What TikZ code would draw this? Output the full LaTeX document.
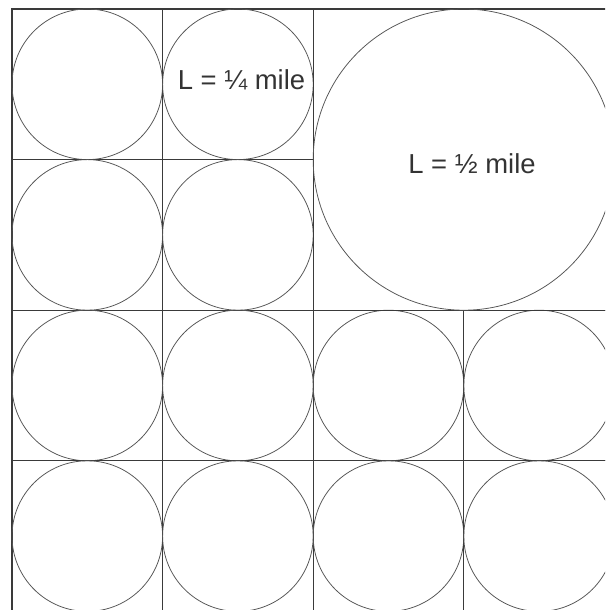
\documentclass[tikz,border=0pt]{standalone}
\usepackage{fontspec}
\setmainfont{Liberation Sans}
\definecolor{gridc}{HTML}{3A3A3A}
\definecolor{circc}{HTML}{555555}
\definecolor{textc}{HTML}{333333}
\begin{document}
\begin{tikzpicture}[x=0.025cm,y=-0.025cm,
  cellbox/.style={draw=gridc,line width=0.8pt},
  ring/.style={draw=circc,line width=0.55pt},
  lbl/.style={text=textc,font=\fontsize{19.5}{22}\selectfont,inner sep=0pt}]
\useasboundingbox (0,0) rectangle (605,610);
\clip (0,0) rectangle (605,610);
\def\xo{12}\def\yo{9}\def\cs{150.6}
% small cells: top-left 2x2
\foreach \c/\r in {0/0,1/0,0/1,1/1,0/2,1/2,2/2,3/2,0/3,1/3,2/3,3/3}{
  \draw[cellbox] ({\xo+\c*\cs},{\yo+\r*\cs}) rectangle ++(\cs,\cs);
  \draw[ring] ({\xo+(\c+0.5)*\cs},{\yo+(\r+0.5)*\cs}) circle[radius=\cs/2*0.025cm];
}
% big square
\draw[cellbox] ({\xo+2*\cs},{\yo}) rectangle ++({2*\cs},{2*\cs});
\draw[ring] ({\xo+3*\cs},{\yo+\cs}) circle[radius=\cs*0.025cm];
\node[lbl] (quarter) at (241.5,80) {L = ¼ mile};
\node[lbl] (half) at (472,163.5) {L = ½ mile};
\end{tikzpicture}
\end{document}
